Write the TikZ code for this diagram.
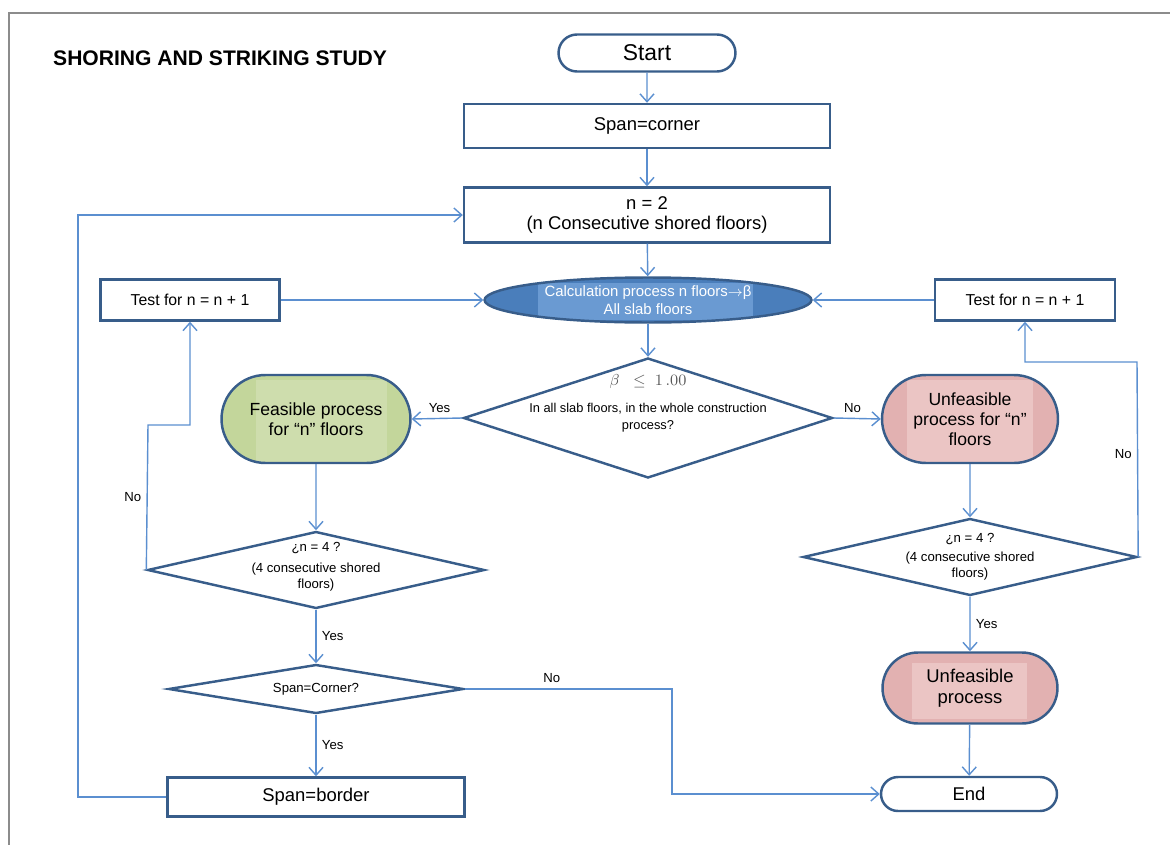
\documentclass[tikz,border=0pt]{standalone}
\usepackage{fontspec}
\setmainfont{Liberation Sans}
\usetikzlibrary{shapes.geometric}
\usetikzlibrary{shapes.misc}
\usetikzlibrary{arrows.meta}

\definecolor{boxline}{HTML}{385D8A}
\definecolor{flowline}{HTML}{5B8FD0}
\definecolor{calcblue}{HTML}{4A7EBB}
\definecolor{calclight}{HTML}{6A9AD2}
\definecolor{okgreen}{HTML}{C3D69B}
\definecolor{okgreenlight}{HTML}{CEDDAD}
\definecolor{badpink}{HTML}{E2B1B1}
\definecolor{badpinklight}{HTML}{EBC5C4}
\definecolor{framegray}{HTML}{8C8C8C}

\begin{document}
\begin{tikzpicture}[x=0.02cm, y=-0.02cm,
    box/.style={draw=boxline, line width=1.4pt, rectangle, align=center, inner sep=0pt},
    term/.style={draw=boxline, line width=1.4pt, rounded rectangle, align=center, inner sep=0pt},
    decision/.style={draw=boxline, line width=1.4pt, diamond, inner sep=0pt},
    qtext/.style={align=center, font=\fontsize{7.5}{9}\selectfont},
    flow/.style={draw=flowline, line width=0.8pt, -{Straight Barb[length=4.5pt,width=8pt]}},
    lbl/.style={font=\fontsize{7.5}{9}\selectfont, inner sep=3pt}]

\useasboundingbox (0,0) rectangle (1170,845);
\draw[framegray, line width=1.2pt] (9,845) -- (9,13) -- (1170,13);

% title
\node[anchor=west, font=\bfseries\fontsize{12}{14}\selectfont] (title) at (47,58) {SHORING AND STRIKING STUDY};

% main column
\node[term, minimum width=3.54cm, minimum height=0.74cm, font=\fontsize{13}{15}\selectfont] (start) at (647,53) {Start};
\node[box, minimum width=7.32cm, minimum height=0.88cm, font=\fontsize{10.5}{12}\selectfont] (corner) at (647,126) {Span=corner};
\node[box, minimum width=7.32cm, minimum height=1.1cm, font=\fontsize{10.5}{11.5}\selectfont] (ncount) at (647,215) {n = 2\\(n Consecutive shored floors)};
\node[ellipse, draw=boxline, line width=1.4pt, fill=calcblue, minimum width=6.54cm, minimum height=0.9cm, inner sep=0pt,
      text=white, align=center, font=\fontsize{8.5}{10}\selectfont,
      path picture={\fill[calclight] ([xshift=-2.2cm,yshift=-0.4cm]path picture bounding box.center) rectangle ([xshift=2.1cm,yshift=0.34cm]path picture bounding box.center);}]
      (calc) at (648,300) {Calculation process n floors$\rightarrow$β\\All slab floors};

% side test boxes
\node[box, minimum width=3.58cm, minimum height=0.82cm, font=\fontsize{9}{11}\selectfont] (testL) at (190,300) {Test for n = n + 1};
\node[box, minimum width=3.6cm, minimum height=0.82cm, font=\fontsize{9}{11}\selectfont] (testR) at (1025,300) {Test for n = n + 1};

% first check
\node[decision, minimum width=7.38cm, minimum height=2.4cm] (check) at (648,418) {};
\node[qtext, font=\fontsize{7.3}{9.5}\selectfont] (checktxt) at (648,403) {{\fontsize{9.5}{11}\selectfont\textcolor{black!65}{$\beta\;\;\leq\;1\,.00$}}\\[6pt]In all slab floors, in the whole construction\\process?};

% results
\node[term, fill=okgreen, minimum width=3.78cm, minimum height=1.76cm, font=\fontsize{10}{11.5}\selectfont,
      path picture={\fill[okgreenlight] ([xshift=0.68cm]path picture bounding box.south west) rectangle ([xshift=-0.46cm,yshift=-0.1cm]path picture bounding box.north east);}]
      (feas) at (316,419) {Feasible process\\for “n” floors};
\node[term, fill=badpink, minimum width=3.52cm, minimum height=1.76cm, font=\fontsize{10}{11.5}\selectfont,
      path picture={\fill[badpinklight] ([xshift=0.5cm]path picture bounding box.south west) rectangle ([xshift=-0.5cm,yshift=-0.1cm]path picture bounding box.north east);}]
      (unfeas) at (970,419) {Unfeasible\\process for “n”\\floors};

% n = 4 checks
\node[decision, minimum width=6.74cm, minimum height=1.54cm] (fourL) at (316,570) {};
\node[qtext] (fourLtxt) at (316,567) {¿n = 4 ?\\[3pt](4 consecutive shored\\floors)};
\node[decision, minimum width=6.68cm, minimum height=1.54cm] (fourR) at (970,557) {};
\node[qtext] (fourRtxt) at (970,557) {¿n = 4 ?\\[2pt](4 consecutive shored\\floors)};

\node[decision, minimum width=5.9cm, minimum height=0.98cm] (corq) at (316,689) {};
\node[qtext] (corqtxt) at (316,689) {Span=Corner?};

\node[box, minimum width=5.94cm, minimum height=0.78cm, font=\fontsize{10.5}{12}\selectfont] (border) at (316,797) {Span=border};
\node[term, fill=badpink, minimum width=3.5cm, minimum height=1.42cm, font=\fontsize{10.5}{12}\selectfont,
      path picture={\fill[badpinklight] ([xshift=0.58cm,yshift=0.1cm]path picture bounding box.south west) rectangle ([xshift=-0.6cm,yshift=-0.2cm]path picture bounding box.north east);}]
      (unfproc) at (970,688) {Unfeasible\\process};
\node[term, minimum width=3.52cm, minimum height=0.68cm, font=\fontsize{10.5}{12}\selectfont] (endt) at (969,794) {End};

% connectors
\coordinate (bendL) at (148,425);
\coordinate (bendR) at (1137,362);
\coordinate (bendE) at (672,689);
\coordinate (loopL) at (78,797);

\draw[flow] (start) -- (corner);
\draw[flow] (corner) -- (ncount);
\draw[flow] (ncount) -- (calc);
\draw[flow] (calc) -- (check);
\draw[flow] (testL.east) -- (calc.west);
\draw[flow] (testR.west) -- (calc.east);
\draw[flow] (check.west) -- node[lbl, above, pos=0.45]{Yes} (feas.east);
\draw[flow] (check.east) -- node[lbl, above, pos=0.4]{No} (unfeas.west);
\draw[flow] (feas) -- (fourL);
\draw[flow] (fourL.west) -- node[lbl, left]{No} (bendL) -| (testL.south);
\draw[flow] (fourL) -- node[lbl, right]{Yes} (corq);
\draw[flow] (corq) -- node[lbl, right]{Yes} (border);
\draw[flow] (corq.east) -- node[lbl, above, pos=0.42]{No} (bendE) |- (endt.west);
\draw[flow] (border.west) -- (loopL) |- (ncount.west);
\draw[flow] (unfeas) -- (fourR);
\draw[flow] (fourR.east) -- node[lbl, left, pos=0.53]{No} (bendR) -| (testR.south);
\draw[flow] (fourR) -- node[lbl, right]{Yes} (unfproc);
\draw[flow] (unfproc) -- (endt);
\end{tikzpicture}
\end{document}
